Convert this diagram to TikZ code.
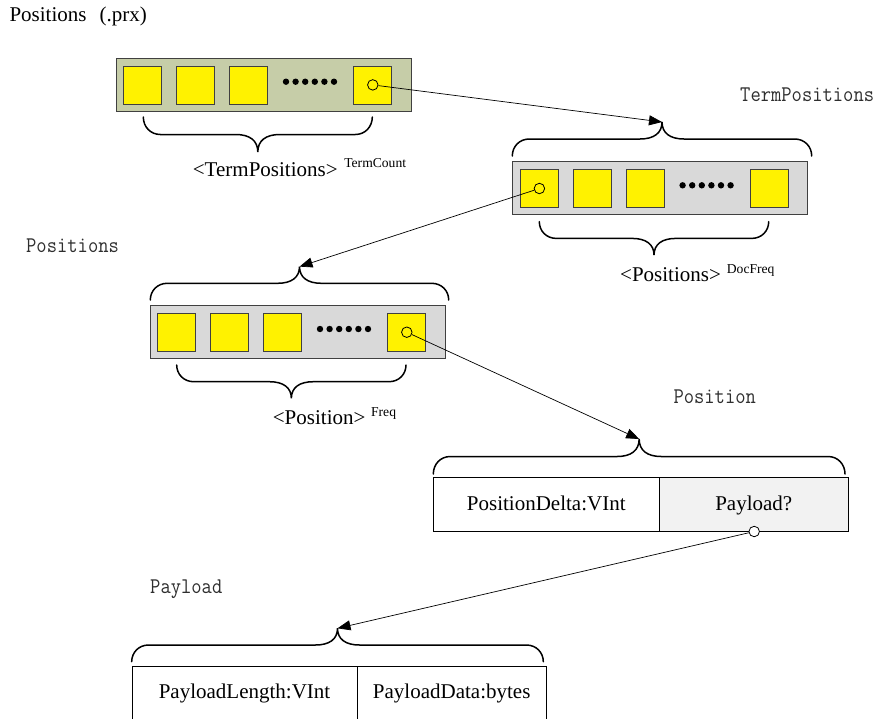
\documentclass[tikz,border=0pt]{standalone}
\usepackage{fontspec}
\setmainfont{Liberation Serif}
\usetikzlibrary{arrows.meta,calc}

\definecolor{olivebox}{HTML}{C6CDA8}
\definecolor{greybox}{HTML}{D9D9D9}
\definecolor{cellgrey}{HTML}{F2F2F2}
\definecolor{frame}{HTML}{404040}
\definecolor{headink}{HTML}{2E2E2E}

\tikzset{
  outerbox/.style={draw=frame, line width=0.9pt, minimum width=295pt, minimum height=53pt,
    anchor=north west, inner sep=0pt},
  item/.style={draw=frame, line width=0.8pt, fill=yellow, minimum size=38pt,
    anchor=north west, inner sep=0pt},
  handle/.style={circle, draw=black, line width=0.8pt, minimum size=10.5pt, inner sep=0pt},
  bracket/.style={line width=1.5pt, line cap=round},
  link/.style={line width=0.7pt, -{Triangle[length=13pt,width=10pt]}},
  heading/.style={font=\ttfamily\fontsize{20}{22}\selectfont, text=headink,
    anchor=base west, inner sep=0pt},
  caption/.style={font=\fontsize{21}{25}\selectfont, anchor=base west, inner sep=0pt},
  field/.style={font=\fontsize{21}{25}\selectfont, anchor=base, inner sep=0pt},
  tablecell/.style={draw=black, line width=0.8pt, anchor=north west, inner sep=0pt},
}

% tall, narrow monospaced heading text
\newcommand{\tallmono}[1]{\scalebox{1}[1.12]{#1}}

% curly brace between x=#2 and x=#3, ends at y=#4, signed rise #5 (positive: tip above);
% the tip is stored as coordinate #1
\newcommand{\curly}[5]{%
  \draw[bracket] (#2,#4)
    .. controls (#2,{#4-0.55*(#5)}) and ({#2+7},{#4-(#5)}) .. ({#2+17},{#4-(#5)})
    -- ({(#2+#3)/2-22},{#4-(#5)})
    .. controls ({(#2+#3)/2-8},{#4-(#5)}) and ({(#2+#3)/2},{#4-1.35*(#5)}) .. ({(#2+#3)/2},{#4-2*(#5)})
    .. controls ({(#2+#3)/2},{#4-1.35*(#5)}) and ({(#2+#3)/2+8},{#4-(#5)}) .. ({(#2+#3)/2+22},{#4-(#5)})
    -- ({#3-17},{#4-(#5)})
    .. controls ({#3-7},{#4-(#5)}) and (#3,{#4-0.55*(#5)}) .. (#3,#4);
  \coordinate (#1) at ({(#2+#3)/2},{#4-2*(#5)});
}

% a record of yellow slots: name #1, top-left corner (#2,#3), fill #4
\newcommand{\seqbox}[4]{%
  \node[outerbox, fill=#4] (#1) at (#2,#3) {};
  \node[item] (#1-a) at ({#2+7.7},{#3+7.8}) {};
  \node[item] (#1-b) at ({#2+60.4},{#3+7.8}) {};
  \node[item] (#1-c) at ({#2+113.2},{#3+7.8}) {};
  \node[item] (#1-n) at ({#2+237.7},{#3+7.8}) {};
  \foreach \k in {0,...,5}
    \fill ({#2+170.3+9.6*\k},{#3+24}) circle (3.2pt);
}

\begin{document}
\begin{tikzpicture}[x=1pt, y=-1pt]
  \clip (0,0) rectangle (880,718);

  % title
  \node[caption] (title) at (9.3,21.7) {Positions\hspace{13pt}(.prx)};

  % .prx file: TermPositions records
  \seqbox{prx}{115.7}{57.7}{olivebox}
  \node[handle, fill=yellow] (hprx) at (prx-n.center) {};
  \curly{tipprx}{143.3}{372.3}{117}{-17.5}
  \node[caption] (lprx) at (192.7,176.7)
    {<TermPositions>\hspace{6.7pt}\raisebox{9.4pt}{\fontsize{13.6}{15}\selectfont TermCount}};

  % TermPositions
  \node[heading] (htp) at (740,101.5) {\tallmono{TermPositions}};
  \curly{tiptp}{512.3}{811.7}{156}{17}
  \seqbox{tp}{512.3}{161.3}{greybox}
  \node[handle, fill=yellow] (htpc) at (tp-a.center) {};
  \curly{tiptpb}{539.3}{768.7}{221.7}{-16.7}
  \node[caption] (ltp) at (620,281.7)
    {<Positions>\hspace{6pt}\raisebox{8.4pt}{\fontsize{13.6}{15}\selectfont DocFreq}};

  % Positions
  \node[heading] (hps) at (26,252) {\tallmono{Positions}};
  \curly{tipps}{150.3}{448.7}{300}{16.7}
  \seqbox{ps}{149.7}{305}{greybox}
  \node[handle, fill=yellow] (hpsc) at (ps-n.center) {};
  \curly{tippsb}{176.7}{406}{365}{-16.7}
  \node[caption] (lps) at (272.7,424.7)
    {<Position>\hspace{5.7pt}\raisebox{8.4pt}{\fontsize{13.6}{15}\selectfont Freq}};

  % Position
  \node[heading] (hpos) at (673.3,403) {\tallmono{Position}};
  \curly{tippos}{433.3}{845}{474}{17.5}
  \node[tablecell, minimum width=226pt, minimum height=53.4pt] (delta) at (433.3,477.3) {};
  \node[tablecell, fill=cellgrey, minimum width=189pt, minimum height=53.4pt] (payq) at (659.3,477.3) {};
  \node[field] (tdelta) at (546.3,510) {PositionDelta:VInt};
  \node[field] (tpayq) at (753.8,510) {Payload?};
  \node[handle, fill=white] (hpay) at (payq.south) {};

  % Payload
  \node[heading] (hpl) at (150,593) {\tallmono{Payload}};
  \curly{tippl}{131.7}{543.3}{661.7}{16.7}
  \node[tablecell, minimum width=225.6pt, minimum height=80pt] (plen) at (131.7,666) {};
  \node[tablecell, minimum width=188.7pt, minimum height=80pt] (pdata) at (357.3,666) {};
  \node[field] (tplen) at (244.5,698.3) {PayloadLength:VInt};
  \node[field] (tpdata) at (451.7,698.3) {PayloadData:bytes};

  % pointers
  \draw[link] (hprx) -- (tiptp);
  \draw[link] (htpc) -- (tipps);
  \draw[link] (hpsc) -- (tippos);
  \draw[link] (hpay) -- (tippl);
\end{tikzpicture}
\end{document}
